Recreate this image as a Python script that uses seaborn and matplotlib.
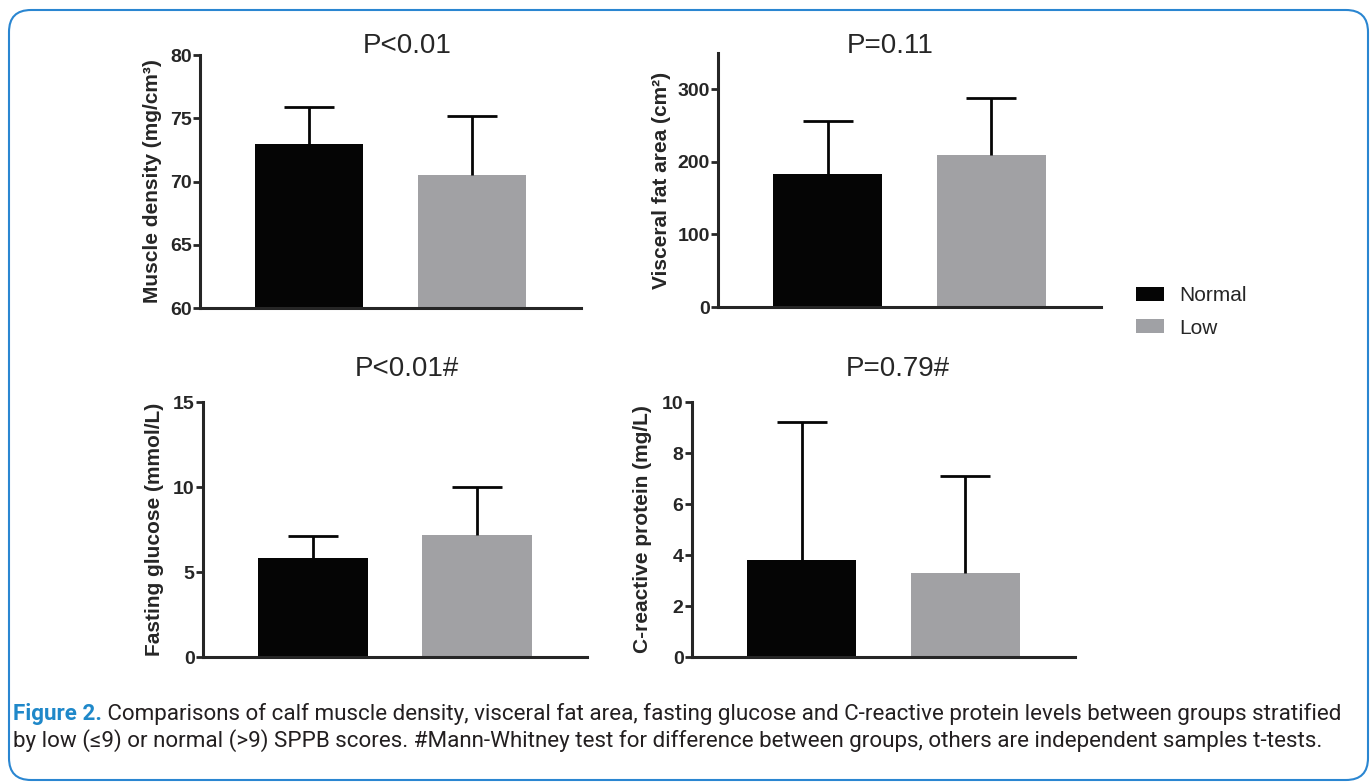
import matplotlib
matplotlib.use('Agg')
import numpy as np
import pandas as pd
import seaborn as sns
import matplotlib.pyplot as plt
from matplotlib.patches import Patch, FancyBboxPatch
from matplotlib.transforms import IdentityTransform

sns.set_style('ticks')
plt.rcParams['font.family'] = ['Liberation Sans', 'DejaVu Sans']

# Data (mean and upper SD bar)
groups = ['Normal', 'Low']
bar_colors = ['#050505', '#a0a1a5']

muscle_mean = [73.0, 70.5]
muscle_sd = [2.9, 4.7]
fat_mean = [183, 209]
fat_sd = [74, 79]
glucose_mean = [5.8, 7.2]
glucose_sd = [1.3, 2.8]
crp_mean = [3.8, 3.3]
crp_sd = [5.4, 3.8]

p_labels = ['P<0.01', 'P=0.11', 'P<0.01#', 'P=0.79#']
y_labels = ['Muscle density (mg/cm³)', 'Visceral fat area (cm²)',
            'Fasting glucose (mmol/L)', 'C-reactive protein (mg/L)']
y_limits = [(60, 80), (0, 350), (0, 15), (0, 10)]
y_ticks = [[60, 65, 70, 75, 80], [0, 100, 200, 300], [0, 5, 10, 15], [0, 2, 4, 6, 8, 10]]

caption_head = 'Figure 2.'
caption_line1 = ' Comparisons of calf muscle density, visceral fat area, fasting glucose and C-reactive protein levels between groups stratified'
caption_line2 = 'by low (≤9) or normal (>9) SPPB scores. #Mann-Whitney test for difference between groups, others are independent samples t-tests.'

means = [muscle_mean, fat_mean, glucose_mean, crp_mean]
sds = [muscle_sd, fat_sd, glucose_sd, crp_sd]

# axes boxes in figure fractions (left, bottom, width, height)
positions = [[0.1459, 0.6061, 0.2779, 0.3235],
             [0.5237, 0.6074, 0.2794, 0.3248],
             [0.1481, 0.1598, 0.2801, 0.3261],
             [0.5047, 0.1598, 0.2794, 0.3261]]
label_x = [-0.10, -0.123, -0.102, -0.104]
title_y = [1.036, 1.028, 1.13, 1.13]
title_x = [0.543, 0.449, 0.532, 0.538]

fig = plt.figure(figsize=(13.71, 7.82), dpi=100)

for i in range(4):
    ax = fig.add_axes(positions[i])
    df = pd.DataFrame({'group': groups, 'value': means[i]})
    sns.barplot(data=df, x='group', y='value', hue='group', palette=bar_colors,
                width=0.667, linewidth=0, errorbar=None, legend=False, ax=ax)
    eb = ax.errorbar([0, 1], means[i], yerr=[[0, 0], sds[i]], fmt='none', ecolor='#050505',
                     elinewidth=2, capsize=18, capthick=2, zorder=1)
    # only the upper whisker is shown, drop the lower cap
    eb[1][0].set_visible(False)
    ax.set_xlim(-0.67, 1.67)
    ax.set_ylim(*y_limits[i])
    ax.set_yticks(y_ticks[i])
    plt.setp(ax.get_yticklabels(), fontweight='bold')
    ax.tick_params(axis='y', length=5, width=2, pad=1, labelsize=14)
    ax.tick_params(axis='x', bottom=False, labelbottom=False)
    ax.set_xlabel('')
    ax.set_ylabel(y_labels[i], fontsize=15, fontweight='bold')
    ax.yaxis.set_label_coords(label_x[i], 0.5)
    sns.despine(ax=ax)
    for side in ['left', 'bottom']:
        ax.spines[side].set_linewidth(2.2)
    ax.text(title_x[i], title_y[i], p_labels[i], transform=ax.transAxes,
            ha='center', va='center', fontsize=20)

# legend
handles = [Patch(facecolor=c, edgecolor='none') for c in bar_colors]
fig.legend(handles, groups, loc='center left', bbox_to_anchor=(1136 / 1371, 1 - 312 / 782),
           frameon=False, fontsize=15, handlelength=1.35, handleheight=0.67,
           handletextpad=0.72, labelspacing=0.63, borderpad=0, borderaxespad=0)

# caption
cap_font = ['Roboto', 'DejaVu Sans']
cap_size = 16.1
head = fig.text(13 / 1371, 1 - 714 / 782, caption_head, color='#1f88c9', fontweight='bold',
                fontsize=cap_size, family=cap_font, va='center')
fig.canvas.draw()
bb = head.get_window_extent()
fig.text(bb.x1 / 1371, 1 - 714 / 782, caption_line1, color='#231f20',
         fontsize=cap_size, family=cap_font, va='center')
fig.text(13 / 1371, 1 - 741 / 782, caption_line2, color='#231f20',
         fontsize=cap_size, family=cap_font, va='center')

# rounded frame around the figure
frame = FancyBboxPatch((9, 2), 1359, 770, boxstyle='round,pad=0,rounding_size=22',
                       transform=IdentityTransform(), facecolor='none',
                       edgecolor='#2a86d1', linewidth=1.5)
fig.patches.append(frame)

fig.savefig('out.png', dpi=100)
